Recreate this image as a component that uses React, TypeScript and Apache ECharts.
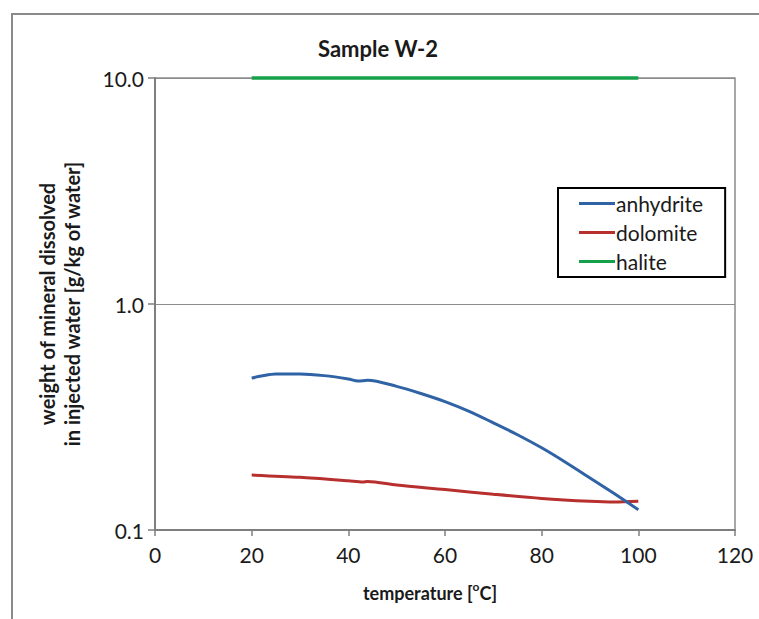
import React, { useEffect, useRef } from "react";
import * as echarts from "echarts";

const title = "Sample W-2";
const xTicks = { min: 0, max: 120, interval: 20 };
const anhydriteT = [20, 22, 25, 30, 35, 40, 42, 44, 50, 55, 60, 65, 70, 75, 80, 85, 90, 95, 100];
const anhydrite = [0.47, 0.48, 0.49, 0.49, 0.482, 0.466, 0.456, 0.46, 0.432, 0.402, 0.37, 0.335, 0.298, 0.264, 0.231, 0.199, 0.17, 0.145, 0.123];
const dolomiteT = [20, 30, 40, 43, 44, 50, 60, 70, 80, 90, 95, 100];
const dolomite = [0.175, 0.171, 0.165, 0.163, 0.164, 0.158, 0.151, 0.144, 0.138, 0.134, 0.133, 0.134];
const haliteT = [20, 100];
const halite = [10, 10];

const FONT = "Lato";

export default function App() {
  const ref = useRef<HTMLDivElement>(null);
  useEffect(() => {
    if (!ref.current) return;
    const chart = echarts.init(ref.current, null, { renderer: "svg" });
    const pair = (xs: number[], ys: number[]) => xs.map((x, i) => [x, ys[i]]);
    chart.setOption({
      animation: false,
      backgroundColor: "#ffffff",
      title: {
        text: title,
        left: 373,
        top: 32,
        textAlign: "center",
        textStyle: { fontFamily: FONT, fontSize: 22, fontWeight: "bold", color: "#1a1a1a" },
      },
      graphic: [
        {
          type: "rect",
          shape: { x: 12, y: 14, width: 800, height: 700 },
          style: { fill: "none", stroke: "#8a8a8a", lineWidth: 2 },
          silent: true,
          z: -1,
        },
      ],
      grid: {
        left: 155,
        right: 24,
        top: 78,
        bottom: 89,
        show: true,
        borderColor: "#8c8c8c",
        borderWidth: 1.5,
        backgroundColor: "transparent",
      },
      legend: {
        orient: "vertical",
        left: 558,
        top: 188,
        padding: [5, 22, 5, 21],
        itemGap: 8,
        itemWidth: 36,
        itemHeight: 3,
        icon: "rect",
        borderColor: "#000000",
        borderWidth: 2,
        backgroundColor: "#ffffff",
        textStyle: { fontFamily: FONT, fontSize: 21, color: "#1a1a1a", padding: [0, 0, 0, -4] },
        data: ["anhydrite", "dolomite", "halite"],
      },
      xAxis: {
        type: "value",
        min: xTicks.min,
        max: xTicks.max,
        interval: xTicks.interval,
        name: "{t|temperature [}{sup|o}{t|C]}",
        nameLocation: "middle",
        nameGap: 50,
        nameTextStyle: {
          fontFamily: FONT,
          fontSize: 18,
          fontWeight: "bold",
          color: "#1a1a1a",
          padding: [0, 30, 0, 0],
          rich: {
            t: { fontFamily: FONT, fontSize: 18, fontWeight: "bold", color: "#1a1a1a", lineHeight: 22, verticalAlign: "bottom" },
            sup: { fontFamily: FONT, fontSize: 12, fontWeight: "bold", color: "#1a1a1a", verticalAlign: "top", lineHeight: 12 },
          },
        },
        axisLine: { show: true, lineStyle: { color: "#7f7f7f", width: 2 } },
        axisTick: { show: true, inside: false, length: 6, lineStyle: { color: "#7f7f7f", width: 1.5 } },
        axisLabel: { fontFamily: FONT, fontSize: 21, color: "#1a1a1a", margin: 14 },
        splitLine: { show: false },
      },
      yAxis: {
        type: "log",
        logBase: 10,
        min: 0.1,
        max: 10,
        name: "weight of mineral dissolved\nin injected water [g/kg of water]",
        nameLocation: "middle",
        nameGap: 71,
        nameTextStyle: { fontFamily: FONT, fontSize: 20, fontWeight: "bold", color: "#1a1a1a", lineHeight: 25 },
        axisLine: { show: true, lineStyle: { color: "#7f7f7f", width: 2 } },
        axisTick: { show: true, inside: false, length: 7, lineStyle: { color: "#7f7f7f", width: 1.5 } },
        axisLabel: {
          fontFamily: FONT,
          fontSize: 21,
          color: "#1a1a1a",
          margin: 11,
          formatter: (v: number) => v.toFixed(1),
        },
        splitLine: { show: true, lineStyle: { color: "#8c8c8c", width: 1 } },
        minorTick: { show: false },
      },
      series: [
        {
          name: "anhydrite",
          type: "line",
          data: pair(anhydriteT, anhydrite),
          smooth: 0.3,
          showSymbol: false,
          symbol: "none",
          lineStyle: { color: "#2f63a5", width: 3 },
          itemStyle: { color: "#2f63a5" },
          z: 3,
        },
        {
          name: "dolomite",
          type: "line",
          data: pair(dolomiteT, dolomite),
          smooth: 0.3,
          showSymbol: false,
          symbol: "none",
          lineStyle: { color: "#b8302e", width: 3 },
          itemStyle: { color: "#b8302e" },
          z: 2,
        },
        {
          name: "halite",
          type: "line",
          data: pair(haliteT, halite),
          showSymbol: false,
          symbol: "none",
          clip: false,
          lineStyle: { color: "#15a04a", width: 3.5 },
          itemStyle: { color: "#15a04a" },
          z: 4,
        },
      ],
    });
    return () => chart.dispose();
  }, []);
  return (
    <div
      ref={ref}
      style={{ position: "fixed", left: 0, top: 0, width: 759, height: 619, background: "#fff" }}
    />
  );
}
